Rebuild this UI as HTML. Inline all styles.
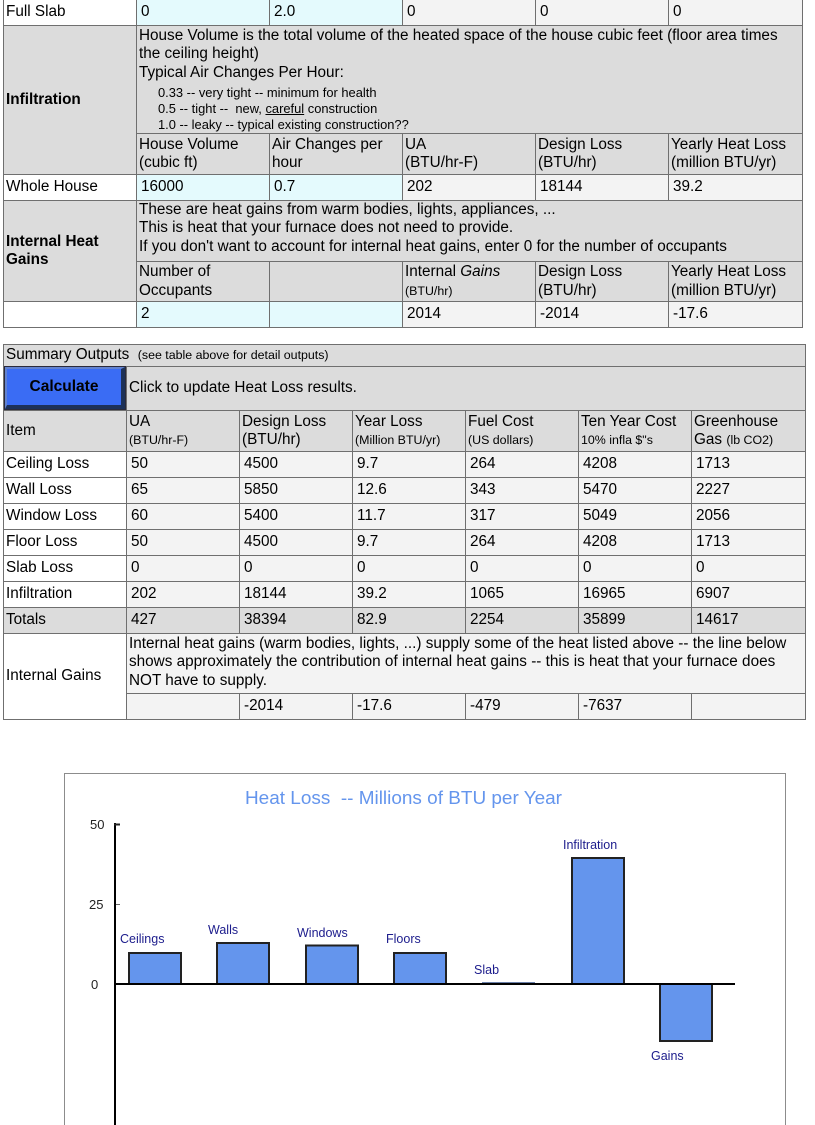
<!DOCTYPE html>
<html>
<head>
<meta charset="utf-8">
<style>
html,body{margin:0;padding:0;}
body{width:815px;height:1125px;position:relative;overflow:hidden;background:#fff;font-family:"Liberation Sans",Arial,sans-serif;color:#000;}
.bg{position:absolute;background:#6f6f6f;}
.c{position:absolute;box-sizing:border-box;overflow:hidden;white-space:nowrap;font-size:15.3px;line-height:18.4px;padding-left:2px;display:flex;align-items:center;}
.t{position:absolute;box-sizing:border-box;overflow:hidden;white-space:nowrap;font-size:15.3px;line-height:18.4px;padding-left:2px;}
.v{padding-left:4px;}
.w{background:#ffffff;}
.y{background:#e4fafd;}
.g{background:#dcdcdc;}
.l{background:#f3f3f3;}
.b{font-weight:bold;}
.s{font-size:12.4px;}
.sm{font-size:12.9px;line-height:16px;padding-left:19px;margin-top:3px;}
.btn{position:absolute;left:5px;top:367px;width:120px;height:42px;box-sizing:border-box;background:#3a6cf4;border-style:solid;border-width:2px 4px 4px 2px;border-color:#6282d0 #1d3158 #1d3158 #6282d0;box-shadow:0 0 0 1px #2a2a3a;font-weight:bold;font-size:15.5px;text-align:center;line-height:36px;color:#000;}
</style>
</head>
<body>

<!-- Top table -->
<div class="bg" style="left:3px;top:-2px;width:800px;height:330px"></div>

<div class="c w" style="left:4px;top:-1px;width:132px;height:26px"><div>Full Slab</div></div>
<div class="c y v" style="left:137px;top:-1px;width:132px;height:26px"><div>0</div></div>
<div class="c y v" style="left:270px;top:-1px;width:132px;height:26px"><div>2.0</div></div>
<div class="c l v" style="left:403px;top:-1px;width:132px;height:26px"><div>0</div></div>
<div class="c l v" style="left:536px;top:-1px;width:132px;height:26px"><div>0</div></div>
<div class="c l v" style="left:669px;top:-1px;width:133px;height:26px"><div>0</div></div>

<div class="c g b" style="left:4px;top:26px;width:132px;height:148px"><div>Infiltration</div></div>
<div class="t g" style="left:137px;top:26px;width:665px;height:107px;padding-top:1px">
House Volume is the total volume of the heated space of the house cubic feet (floor area times<br>
the ceiling height)<br>
Typical Air Changes Per Hour:
<div class="sm">0.33 -- very tight -- minimum for health<br>0.5 -- tight --&nbsp; new, <u>careful</u> construction<br>1.0 -- leaky -- typical existing construction??</div>
</div>

<div class="c g" style="left:137px;top:134px;width:132px;height:40px"><div>House Volume<br>(cubic ft)</div></div>
<div class="c g" style="left:270px;top:134px;width:132px;height:40px"><div>Air Changes per<br>hour</div></div>
<div class="c g" style="left:403px;top:134px;width:132px;height:40px"><div>UA<br>(BTU/hr-F)</div></div>
<div class="c g" style="left:536px;top:134px;width:132px;height:40px"><div>Design Loss<br>(BTU/hr)</div></div>
<div class="c g" style="left:669px;top:134px;width:133px;height:40px"><div>Yearly Heat Loss<br>(million BTU/yr)</div></div>

<div class="c w" style="left:4px;top:175px;width:132px;height:25px"><div>Whole House</div></div>
<div class="c y v" style="left:137px;top:175px;width:132px;height:25px"><div>16000</div></div>
<div class="c y v" style="left:270px;top:175px;width:132px;height:25px"><div>0.7</div></div>
<div class="c l v" style="left:403px;top:175px;width:132px;height:25px"><div>202</div></div>
<div class="c l v" style="left:536px;top:175px;width:132px;height:25px"><div>18144</div></div>
<div class="c l v" style="left:669px;top:175px;width:133px;height:25px"><div>39.2</div></div>

<div class="c g b" style="left:4px;top:201px;width:132px;height:100px"><div>Internal Heat<br>Gains</div></div>
<div class="t g" style="left:137px;top:201px;width:665px;height:60px;padding-top:0px">
These are heat gains from warm bodies, lights, appliances, ...<br>
This is heat that your furnace does not need to provide.<br>
If you don't want to account for internal heat gains, enter 0 for the number of occupants
</div>

<div class="c g" style="left:137px;top:262px;width:132px;height:39px"><div>Number of<br>Occupants</div></div>
<div class="c g" style="left:270px;top:262px;width:132px;height:39px"><div></div></div>
<div class="c g" style="left:403px;top:262px;width:132px;height:39px"><div>Internal <i>Gains</i><br><span class="s">(BTU/hr)</span></div></div>
<div class="c g" style="left:536px;top:262px;width:132px;height:39px"><div>Design Loss<br>(BTU/hr)</div></div>
<div class="c g" style="left:669px;top:262px;width:133px;height:39px"><div>Yearly Heat Loss<br>(million BTU/yr)</div></div>

<div class="c w" style="left:4px;top:302px;width:132px;height:25px"><div></div></div>
<div class="c y v" style="left:137px;top:302px;width:132px;height:25px"><div>2</div></div>
<div class="c y v" style="left:270px;top:302px;width:132px;height:25px"><div></div></div>
<div class="c l v" style="left:403px;top:302px;width:132px;height:25px"><div>2014</div></div>
<div class="c l v" style="left:536px;top:302px;width:132px;height:25px"><div>-2014</div></div>
<div class="c l v" style="left:669px;top:302px;width:133px;height:25px"><div>-17.6</div></div>

<!-- Summary table -->
<div class="bg" style="left:3px;top:344px;width:803px;height:376px"></div>

<div class="c g" style="left:4px;top:345px;width:801px;height:21px"><div>Summary Outputs&nbsp; <span class="s">(see table above for detail outputs)</span></div></div>

<div class="c g" style="left:4px;top:367px;width:122px;height:43px"><div></div></div>
<div class="btn">Calculate</div>
<div class="c g" style="left:127px;top:367px;width:678px;height:43px"><div>Click to update Heat Loss results.</div></div>

<div class="c g" style="left:4px;top:411px;width:122px;height:40px"><div>Item</div></div>
<div class="c g" style="left:127px;top:411px;width:112px;height:40px"><div>UA<br><span class="s">(BTU/hr-F)</span></div></div>
<div class="c g" style="left:240px;top:411px;width:112px;height:40px"><div>Design Loss<br>(BTU/hr)</div></div>
<div class="c g" style="left:353px;top:411px;width:112px;height:40px"><div>Year Loss<br><span class="s">(Million BTU/yr)</span></div></div>
<div class="c g" style="left:466px;top:411px;width:112px;height:40px"><div>Fuel Cost<br><span class="s">(US dollars)</span></div></div>
<div class="c g" style="left:579px;top:411px;width:112px;height:40px"><div>Ten Year Cost<br><span class="s">10% infla $"s</span></div></div>
<div class="c g" style="left:692px;top:411px;width:113px;height:40px"><div>Greenhouse<br>Gas <span class="s">(lb CO2)</span></div></div>

<!-- Ceiling -->
<div class="c w" style="left:4px;top:452px;width:122px;height:25px"><div>Ceiling Loss</div></div>
<div class="c l v" style="left:127px;top:452px;width:112px;height:25px"><div>50</div></div>
<div class="c l v" style="left:240px;top:452px;width:112px;height:25px"><div>4500</div></div>
<div class="c l v" style="left:353px;top:452px;width:112px;height:25px"><div>9.7</div></div>
<div class="c l v" style="left:466px;top:452px;width:112px;height:25px"><div>264</div></div>
<div class="c l v" style="left:579px;top:452px;width:112px;height:25px"><div>4208</div></div>
<div class="c l v" style="left:692px;top:452px;width:113px;height:25px"><div>1713</div></div>
<!-- Wall -->
<div class="c w" style="left:4px;top:478px;width:122px;height:25px"><div>Wall Loss</div></div>
<div class="c l v" style="left:127px;top:478px;width:112px;height:25px"><div>65</div></div>
<div class="c l v" style="left:240px;top:478px;width:112px;height:25px"><div>5850</div></div>
<div class="c l v" style="left:353px;top:478px;width:112px;height:25px"><div>12.6</div></div>
<div class="c l v" style="left:466px;top:478px;width:112px;height:25px"><div>343</div></div>
<div class="c l v" style="left:579px;top:478px;width:112px;height:25px"><div>5470</div></div>
<div class="c l v" style="left:692px;top:478px;width:113px;height:25px"><div>2227</div></div>
<!-- Window -->
<div class="c w" style="left:4px;top:504px;width:122px;height:25px"><div>Window Loss</div></div>
<div class="c l v" style="left:127px;top:504px;width:112px;height:25px"><div>60</div></div>
<div class="c l v" style="left:240px;top:504px;width:112px;height:25px"><div>5400</div></div>
<div class="c l v" style="left:353px;top:504px;width:112px;height:25px"><div>11.7</div></div>
<div class="c l v" style="left:466px;top:504px;width:112px;height:25px"><div>317</div></div>
<div class="c l v" style="left:579px;top:504px;width:112px;height:25px"><div>5049</div></div>
<div class="c l v" style="left:692px;top:504px;width:113px;height:25px"><div>2056</div></div>
<!-- Floor -->
<div class="c w" style="left:4px;top:530px;width:122px;height:25px"><div>Floor Loss</div></div>
<div class="c l v" style="left:127px;top:530px;width:112px;height:25px"><div>50</div></div>
<div class="c l v" style="left:240px;top:530px;width:112px;height:25px"><div>4500</div></div>
<div class="c l v" style="left:353px;top:530px;width:112px;height:25px"><div>9.7</div></div>
<div class="c l v" style="left:466px;top:530px;width:112px;height:25px"><div>264</div></div>
<div class="c l v" style="left:579px;top:530px;width:112px;height:25px"><div>4208</div></div>
<div class="c l v" style="left:692px;top:530px;width:113px;height:25px"><div>1713</div></div>
<!-- Slab -->
<div class="c w" style="left:4px;top:556px;width:122px;height:25px"><div>Slab Loss</div></div>
<div class="c l v" style="left:127px;top:556px;width:112px;height:25px"><div>0</div></div>
<div class="c l v" style="left:240px;top:556px;width:112px;height:25px"><div>0</div></div>
<div class="c l v" style="left:353px;top:556px;width:112px;height:25px"><div>0</div></div>
<div class="c l v" style="left:466px;top:556px;width:112px;height:25px"><div>0</div></div>
<div class="c l v" style="left:579px;top:556px;width:112px;height:25px"><div>0</div></div>
<div class="c l v" style="left:692px;top:556px;width:113px;height:25px"><div>0</div></div>
<!-- Infiltration -->
<div class="c w" style="left:4px;top:582px;width:122px;height:25px"><div>Infiltration</div></div>
<div class="c l v" style="left:127px;top:582px;width:112px;height:25px"><div>202</div></div>
<div class="c l v" style="left:240px;top:582px;width:112px;height:25px"><div>18144</div></div>
<div class="c l v" style="left:353px;top:582px;width:112px;height:25px"><div>39.2</div></div>
<div class="c l v" style="left:466px;top:582px;width:112px;height:25px"><div>1065</div></div>
<div class="c l v" style="left:579px;top:582px;width:112px;height:25px"><div>16965</div></div>
<div class="c l v" style="left:692px;top:582px;width:113px;height:25px"><div>6907</div></div>
<!-- Totals -->
<div class="c g" style="left:4px;top:608px;width:122px;height:25px"><div>Totals</div></div>
<div class="c g v" style="left:127px;top:608px;width:112px;height:25px"><div>427</div></div>
<div class="c g v" style="left:240px;top:608px;width:112px;height:25px"><div>38394</div></div>
<div class="c g v" style="left:353px;top:608px;width:112px;height:25px"><div>82.9</div></div>
<div class="c g v" style="left:466px;top:608px;width:112px;height:25px"><div>2254</div></div>
<div class="c g v" style="left:579px;top:608px;width:112px;height:25px"><div>35899</div></div>
<div class="c g v" style="left:692px;top:608px;width:113px;height:25px"><div>14617</div></div>
<!-- Internal gains -->
<div class="c w" style="left:4px;top:634px;width:122px;height:85px"><div>Internal Gains</div></div>
<div class="t l" style="left:127px;top:634px;width:678px;height:59px;padding-top:1px">
Internal heat gains (warm bodies, lights, ...) supply some of the heat listed above -- the line below<br>
shows approximately the contribution of internal heat gains -- this is heat that your furnace does<br>
NOT have to supply.
</div>
<div class="c l v" style="left:127px;top:694px;width:112px;height:25px"><div></div></div>
<div class="c l v" style="left:240px;top:694px;width:112px;height:25px"><div>-2014</div></div>
<div class="c l v" style="left:353px;top:694px;width:112px;height:25px"><div>-17.6</div></div>
<div class="c l v" style="left:466px;top:694px;width:112px;height:25px"><div>-479</div></div>
<div class="c l v" style="left:579px;top:694px;width:112px;height:25px"><div>-7637</div></div>
<div class="c l v" style="left:692px;top:694px;width:113px;height:25px"><div></div></div>

<!-- Chart -->
<svg style="position:absolute;left:0;top:0" width="815" height="1125" viewBox="0 0 815 1125" font-family="Liberation Sans, Arial, sans-serif">
  <rect x="64.5" y="773.5" width="721" height="400" fill="#fff" stroke="#8c8c8c" stroke-width="1"/>
  <text x="245" y="804" font-size="18.8" fill="#6495ED" textLength="317" lengthAdjust="spacingAndGlyphs" xml:space="preserve">Heat Loss  -- Millions of BTU per Year</text>

  <text x="90" y="829" font-size="13" fill="#222">50</text>
  <text x="89" y="909" font-size="13" fill="#222">25</text>
  <text x="91" y="989" font-size="13" fill="#222">0</text>

  <line x1="115" y1="823" x2="115" y2="1125" stroke="#000" stroke-width="2"/>
  <line x1="114" y1="824.5" x2="120" y2="824.5" stroke="#222" stroke-width="2"/>
  <line x1="116" y1="904.5" x2="120" y2="904.5" stroke="#666" stroke-width="1"/>

  <g fill="#6495ED" stroke="#222" stroke-width="2">
    <rect x="129" y="953" width="52" height="31"/>
    <rect x="217" y="943" width="52" height="41"/>
    <rect x="306" y="945.5" width="52" height="38.5"/>
    <rect x="394" y="953" width="52" height="31"/>
    <rect x="483" y="983" width="51" height="1" stroke="#6a7fa8"/>
    <rect x="572" y="858" width="52" height="126"/>
    <rect x="660" y="984" width="52" height="57"/>
  </g>
  <line x1="115" y1="984" x2="735" y2="984" stroke="#000" stroke-width="2"/>

  <g font-size="12.5" fill="#1c1c8c">
    <text x="120" y="943">Ceilings</text>
    <text x="208" y="934">Walls</text>
    <text x="297" y="937">Windows</text>
    <text x="386" y="943">Floors</text>
    <text x="474" y="974">Slab</text>
    <text x="563" y="849">Infiltration</text>
    <text x="651" y="1060">Gains</text>
  </g>
</svg>

</body>
</html>
